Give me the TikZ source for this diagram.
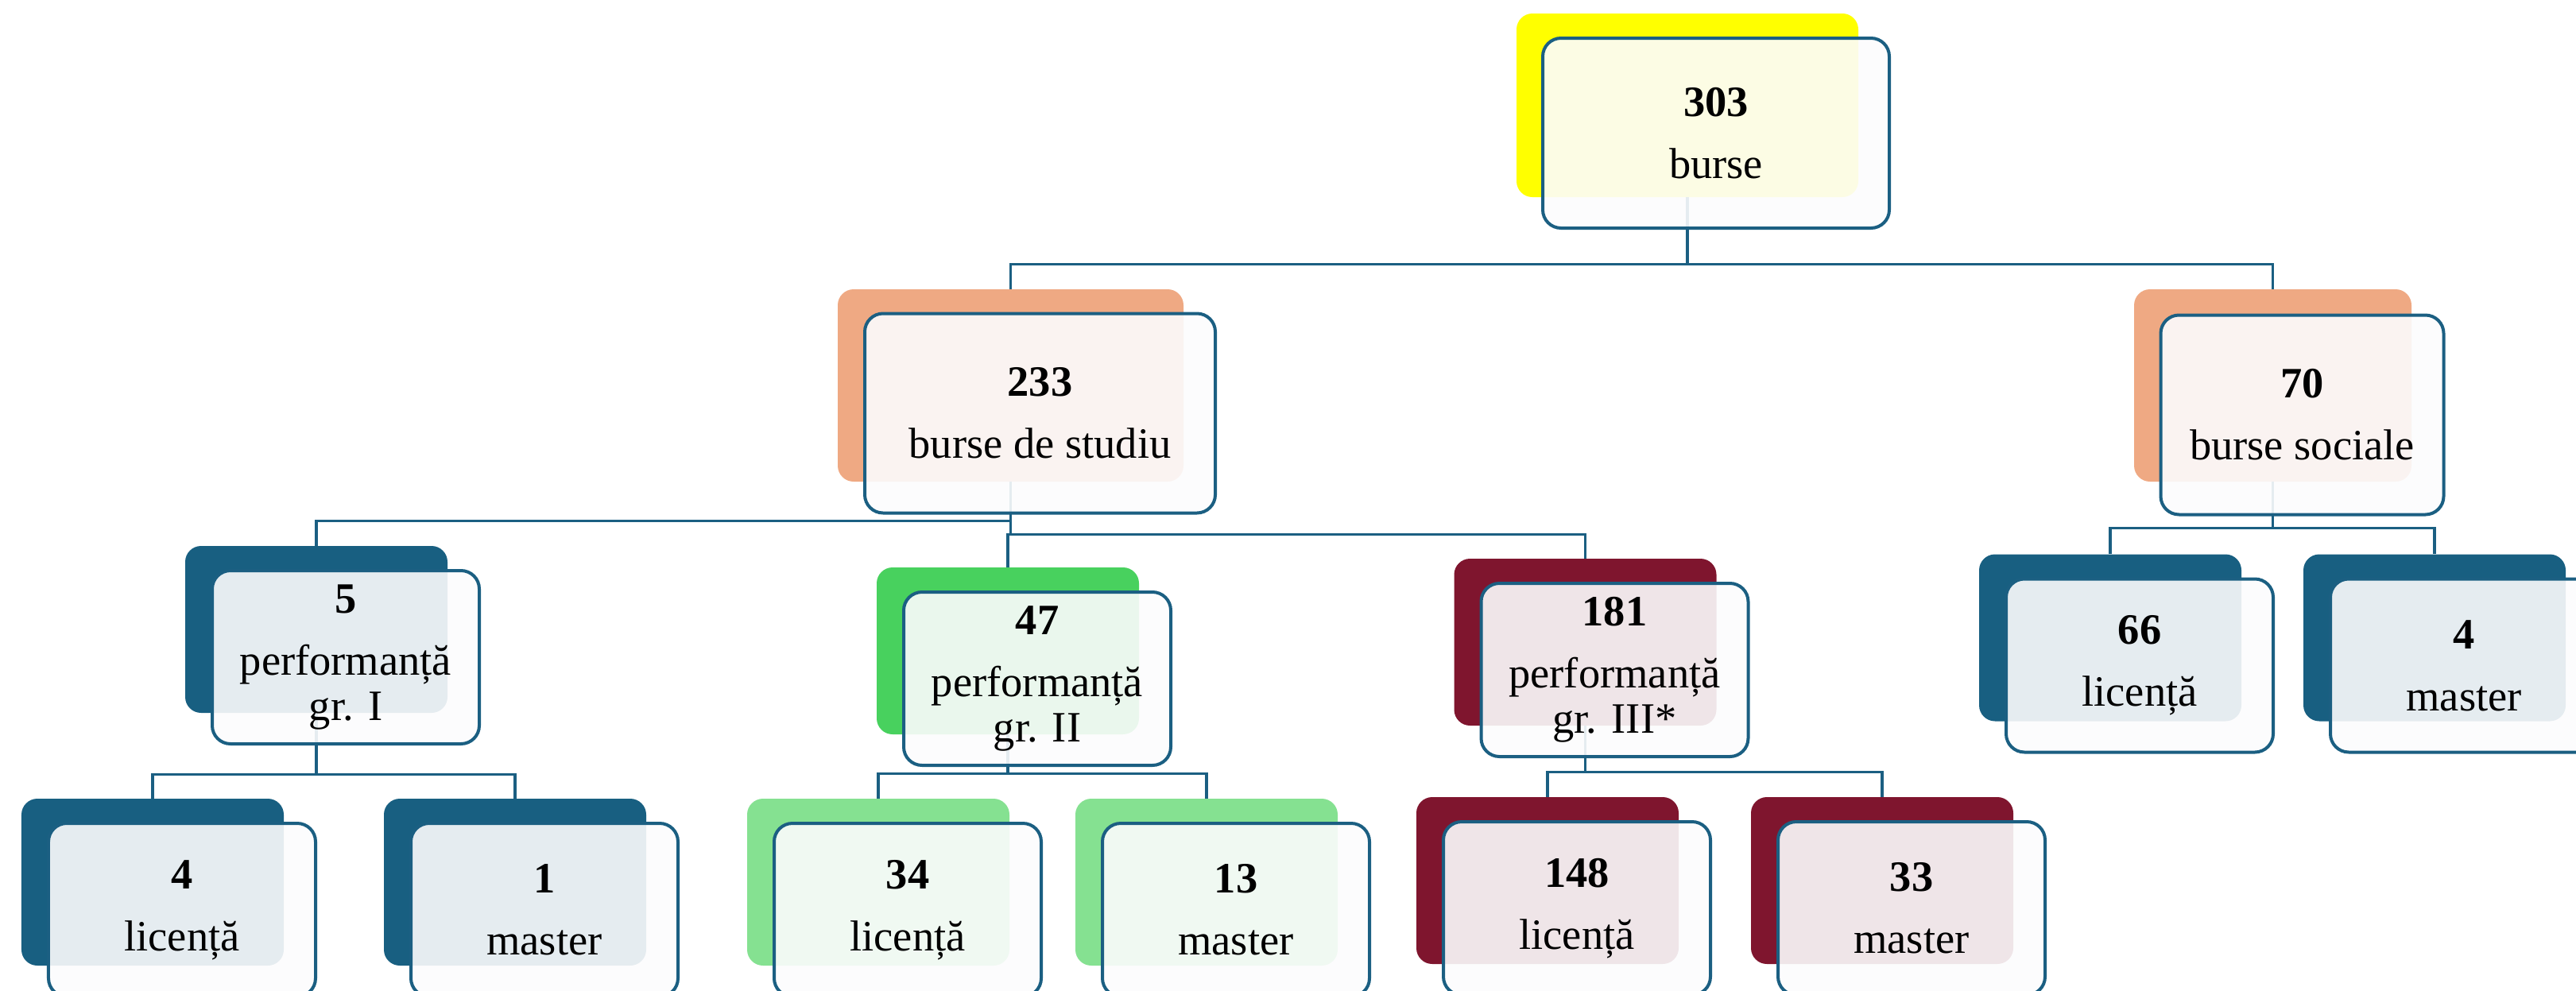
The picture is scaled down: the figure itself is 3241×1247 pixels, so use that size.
\documentclass[tikz,border=0pt]{standalone}
\usepackage{fontspec}
\setmainfont{Liberation Serif}

\definecolor{lineblue}{RGB}{27, 95, 130}
\definecolor{deepblue}{RGB}{24, 95, 129}
\definecolor{salmon}{RGB}{239, 169, 131}
\definecolor{leafgreen}{RGB}{72, 209, 94}
\definecolor{palegreen}{RGB}{133, 225, 145}
\definecolor{wine}{RGB}{127, 21, 46}
\definecolor{sunyellow}{RGB}{255, 255, 0}
\definecolor{cardfill}{RGB}{252, 252, 253}

\tikzset{
	backcard/.style = {rounded corners = 4mm, minimum width = 66mm, minimum height = 42mm, inner sep = 0pt},
	frontcard/.style = {draw = lineblue, line width = 0.8mm, fill = cardfill, fill opacity = 0.9, text opacity = 1,
		rounded corners = 4.6mm, minimum width = 67.2mm, minimum height = 43.6mm, inner sep = 0pt,
		align = center, font = \fontsize{31pt}{32.4pt}\selectfont},
	conn/.style = {draw = lineblue, line width = 0.65mm},
	wide/.style = {minimum width = 87mm, minimum height = 48.4mm},
	widefront/.style = {minimum width = 88.2mm, minimum height = 50.2mm},
	mid/.style = {minimum width = 69.8mm, minimum height = 48.4mm},
	midfront/.style = {minimum width = 71.2mm, minimum height = 50.2mm}
}

\begin{document}
\begin{tikzpicture}[x = 0.2mm, y = -0.2mm]

	\useasboundingbox (0, 0) rectangle (3241, 1247);
	\clip (0, 0) rectangle (3241, 1247);

	% Back cards

	\node [backcard, fill = sunyellow, minimum width = 86mm, minimum height = 46.2mm] (b303) at (2123, 132.5) {};

	\node [backcard, wide, fill = salmon] (b233) at (1271.5, 485) {};
	\node [backcard, mid, fill = salmon] (b70) at (2859.5, 485) {};

	\node [backcard, fill = deepblue] (b5) at (398, 792) {};
	\node [backcard, fill = leafgreen] (b47) at (1268, 819) {};
	\node [backcard, fill = wine] (b181) at (1994.5, 808) {};
	\node [backcard, fill = deepblue] (b66) at (2655, 802.5) {};
	\node [backcard, fill = deepblue] (b4m) at (3063, 802.5) {};

	\node [backcard, fill = deepblue] (b4) at (192, 1110) {};
	\node [backcard, fill = deepblue] (b1) at (648, 1110) {};
	\node [backcard, fill = palegreen] (b34) at (1105, 1110) {};
	\node [backcard, fill = palegreen] (b13) at (1518, 1110) {};
	\node [backcard, fill = wine] (b148) at (1947, 1108) {};
	\node [backcard, fill = wine] (b33) at (2368, 1108) {};

	% Connectors

	\draw [conn] (b303.south) -- ++ (0, 84) -| (b233.north);
	\draw [conn] (b303.south) -- ++ (0, 84) -| (b70.north);

	\draw [conn] (b233.south) -- ++ (0, 49) -| (b5.north);
	\draw [conn] (b233.south) -- ++ (0, 66) -| (b47.north);
	\draw [conn] (b233.south) -- ++ (0, 66) -| (b181.north);

	\draw [conn] (b70.south) -- ++ (0, 58) -| (b66.north);
	\draw [conn] (b70.south) -- ++ (0, 58) -| (b4m.north);

	\draw [conn] (b5.south) -- ++ (0, 77) -| (b4.north);
	\draw [conn] (b5.south) -- ++ (0, 77) -| (b1.north);
	\draw [conn] (b47.south) -- ++ (0, 49) -| (b34.north);
	\draw [conn] (b47.south) -- ++ (0, 49) -| (b13.north);
	\draw [conn] (b181.south) -- ++ (0, 58) -| (b148.north);
	\draw [conn] (b181.south) -- ++ (0, 58) -| (b33.north);

	% Front cards

	\node [frontcard, minimum width = 87.2mm, minimum height = 47.8mm] (f303) at ([shift = {(36, 35)}] b303.center) {\textbf{303}\\[12pt] burse};

	\node [frontcard, widefront] (f233) at ([shift = {(37, 35)}] b233.center) {\textbf{233}\\[12pt] burse de studiu};
	\node [frontcard, midfront] (f70) at ([shift = {(37, 37)}] b70.center) {\textbf{70}\\[12pt] burse sociale};

	\node [frontcard] (f5) at ([shift = {(37, 35)}] b5.center) {\textbf{5}\\[12pt] performanță\\gr. I};
	\node [frontcard] (f47) at ([shift = {(37, 35)}] b47.center) {\textbf{47}\\[12pt] performanță\\gr. II};
	\node [frontcard] (f181) at ([shift = {(37, 35)}] b181.center) {\textbf{181}\\[12pt] performanță\\gr. III*};
	\node [frontcard] (f66) at ([shift = {(37, 35)}] b66.center) {\textbf{66}\\[12pt] licență};
	\node [frontcard] (f4m) at ([shift = {(37, 35)}] b4m.center) {\textbf{4}\\[12pt] master};

	\node [frontcard] (f4) at ([shift = {(37, 35)}] b4.center) {\textbf{4}\\[12pt] licență};
	\node [frontcard] (f1) at ([shift = {(37, 35)}] b1.center) {\textbf{1}\\[12pt] master};
	\node [frontcard] (f34) at ([shift = {(37, 35)}] b34.center) {\textbf{34}\\[12pt] licență};
	\node [frontcard] (f13) at ([shift = {(37, 35)}] b13.center) {\textbf{13}\\[12pt] master};
	\node [frontcard] (f148) at ([shift = {(37, 35)}] b148.center) {\textbf{148}\\[12pt] licență};
	\node [frontcard] (f33) at ([shift = {(37, 35)}] b33.center) {\textbf{33}\\[12pt] master};

\end{tikzpicture}
\end{document}
